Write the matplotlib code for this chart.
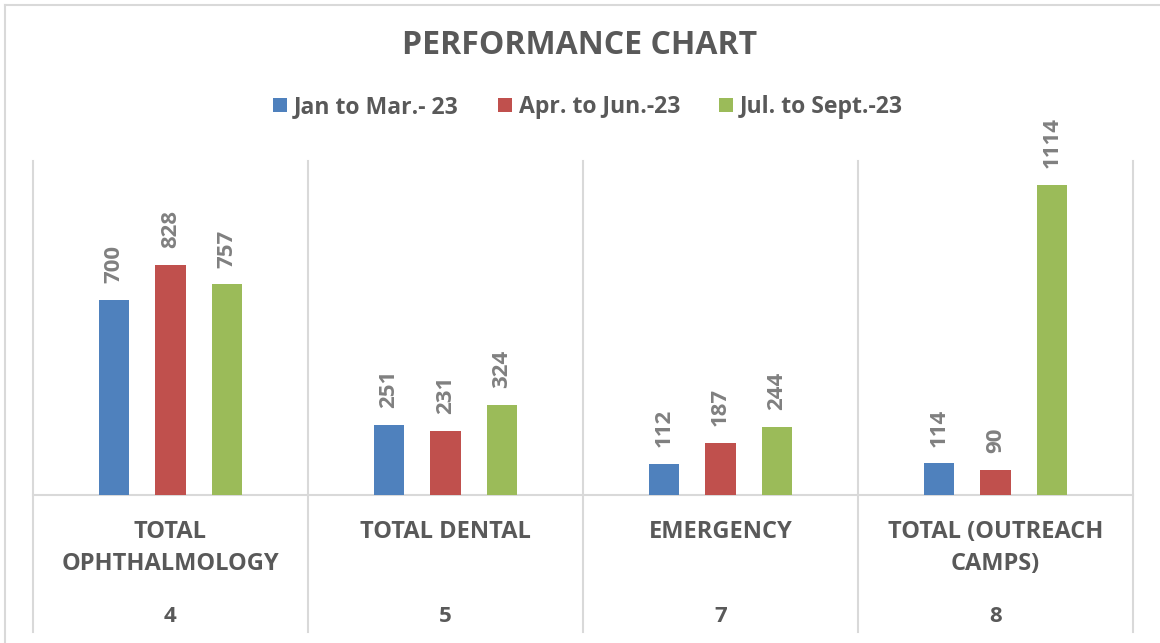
import matplotlib
matplotlib.use("Agg")
import matplotlib.pyplot as plt
from matplotlib.lines import Line2D
import numpy as np

plt.rcParams['font.family'] = ['Open Sans', 'DejaVu Sans']

categories = ["TOTAL\nOPHTHALMOLOGY", "TOTAL DENTAL", "EMERGENCY", "TOTAL (OUTREACH\nCAMPS)"]
codes = ["4", "5", "7", "8"]
series_names = ["Jan to Mar.- 23", "Apr. to Jun.-23", "Jul. to Sept.-23"]
jan_mar = [700, 251, 112, 114]
apr_jun = [828, 231, 187, 90]
jul_sep = [757, 324, 244, 1114]
colors = ["#4f81bd", "#c0504d", "#9bbb59"]

W, H = 1160, 643
fig = plt.figure(figsize=(W / 100, H / 100), dpi=100)

x0, x1 = 33, 1133
ytop, ybase = 161, 495
ax = fig.add_axes([x0 / W, (H - ybase) / H, (x1 - x0) / W, (ybase - ytop) / H])
ax.set_xlim(-0.5, 3.5)
ax.set_ylim(0, 1200)
for s in ["top", "right", "left"]:
    ax.spines[s].set_visible(False)
ax.spines["bottom"].set_color("#d9d9d9")
ax.spines["bottom"].set_linewidth(1.5)
ax.set_xticks([])
ax.set_yticks([])

x = np.arange(len(categories))
offset = 0.205
width = 0.11
all_series = [jan_mar, apr_jun, jul_sep]
label_color = "#808080"
text_color = "#595959"
for i, (vals, c, name) in enumerate(zip(all_series, colors, series_names)):
    xs = x + (i - 1) * offset
    ax.bar(xs, vals, width=width, color=c, label=name, zorder=3)
    for xi, v in zip(xs, vals):
        ax.annotate(str(v), (xi, v), xytext=(0, 12), textcoords="offset points",
                    rotation=90, ha="center", va="bottom", fontsize=16,
                    fontweight="bold", color=label_color)

# category separators (gridlines extending into category axis)
ext = (632 - ybase) / (ybase - ytop)
for b in np.arange(-0.5, 3.6, 1.0):
    ax.add_line(Line2D([b, b], [-ext, 1], transform=ax.get_xaxis_transform(),
                       color="#d9d9d9", lw=1.5, clip_on=False, zorder=1))

trans = ax.get_xaxis_transform()
for xi, cat, code in zip(x, categories, codes):
    ax.text(xi, -(520 - ybase) / (ybase - ytop), cat, transform=trans, ha="center",
            va="top", fontsize=17, fontweight="bold", color=text_color,
            linespacing=1.45)
    ax.text(xi, -(616 - ybase) / (ybase - ytop), code, transform=trans, ha="center",
            va="center", fontsize=16, fontweight="bold", color=text_color)

fig.text(0.5, 1 - 45 / H, "PERFORMANCE CHART", ha="center", va="center",
         fontsize=23, fontweight="bold", color=text_color)

leg = fig.legend(loc="center", bbox_to_anchor=(588 / W, 1 - 107 / H), ncol=3,
                 frameon=False, fontsize=16.6, handlelength=0.6, handleheight=0.6,
                 columnspacing=1.7, handletextpad=0.3)
for t in leg.get_texts():
    t.set_color(text_color)
    t.set_fontweight("bold")

# outer chart border
fig.add_artist(Line2D([4.5 / W, 4.5 / W], [0, 1 - 4.5 / H], transform=fig.transFigure,
                      color="#d9d9d9", lw=1.5))
fig.add_artist(Line2D([4.5 / W, 1], [1 - 4.5 / H, 1 - 4.5 / H], transform=fig.transFigure,
                      color="#d9d9d9", lw=1.5))

fig.savefig("out.png", dpi=100)
